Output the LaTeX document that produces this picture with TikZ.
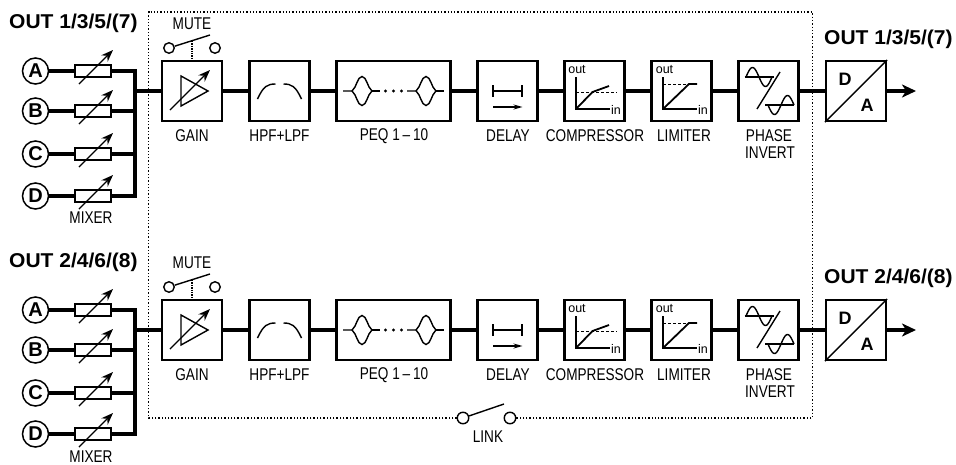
\documentclass[tikz,border=0pt]{standalone}
\usepackage{fontspec}
\setmainfont{Liberation Sans}
\newfontfamily\lblfont[FakeStretch=0.8]{Liberation Sans}
\newfontfamily\outfont[FakeStretch=1.05]{Liberation Sans}
\usetikzlibrary{arrows.meta}
\tikzset{
  x=1pt,y=-1pt,
  blockbox/.style={draw,line width=2.2pt,minimum width=60pt,minimum height=60pt,inner sep=0pt,fill=white},
  wire/.style={line width=3.6pt},
  icon/.style={line width=1.4pt},
  lbl/.style={inner sep=0pt,font=\lblfont\fontsize{17}{19}\selectfont},
  outlbl/.style={inner sep=0pt,font=\outfont\bfseries\fontsize{20}{22}\selectfont},
  small/.style={inner sep=0pt,font=\fontsize{12.5}{14}\selectfont},
  inletter/.style={draw,circle,line width=1.5pt,minimum size=26pt,inner sep=0pt,font=\bfseries\fontsize{20}{22}\selectfont},
  dalet/.style={inner sep=0pt,font=\bfseries\fontsize{18}{20}\selectfont},
  res/.style={draw,line width=1.5pt,minimum width=36pt,minimum height=12pt,inner sep=0pt,fill=white},
  term/.style={draw,circle,line width=1.4pt,minimum size=10.5pt,inner sep=0pt,fill=white},
  frame/.style={dotted,line width=1.3pt},
  tune/.style={line width=1.4pt,-{Stealth[length=12pt,width=9pt]}},
}
% one input of the mixer: prefix, letter, y
\newcommand{\mixinput}[3]{%
  \node[inletter] (#1#2) at (35.5,#3) {#2};
  \node[res] (#1r#2) at (93,#3) {};
  \coordinate (#1bus#2) at (135,#3);
  \draw[wire] (#1#2) -- (#1r#2) -- (#1bus#2);
  \draw[tune] ([shift={(-14,13)}]#1r#2.center) -- ([shift={(20,-21)}]#1r#2.center);
}
\newcommand{\signalrow}[8]{%
  % #1 prefix, #2 centre y, #3-#6 input ys, #7 mixer label y, #8 title
  \node[outlbl,anchor=west] (#1titleL) at (9,#2-68) {OUT #8};
  \node[outlbl,anchor=west] (#1titleR) at (824,#2-52) {OUT #8};
  \mixinput{#1}{A}{#3}\mixinput{#1}{B}{#4}\mixinput{#1}{C}{#5}\mixinput{#1}{D}{#6}
  \node[lbl] (#1mixer) at (91,#7) {MIXER};
  \draw[wire,line cap=rect] (#1busA) -- (#1busD);
  \coordinate (#1join) at (135,#2);
  \node[blockbox] (#1gain) at (192,#2) {};
  \node[blockbox] (#1hpf) at (279.5,#2) {};
  \node[blockbox,minimum width=114pt] (#1peq) at (393.5,#2) {};
  \node[blockbox] (#1delay) at (507.5,#2) {};
  \node[blockbox] (#1comp) at (594.5,#2) {};
  \node[blockbox] (#1lim) at (681.5,#2) {};
  \node[blockbox] (#1phase) at (768.5,#2) {};
  \node[blockbox] (#1da) at (856,#2) {};
  \coordinate (#1out) at (916,#2);
  \draw[wire] (#1join) -- (#1gain);
  \draw[wire] (#1gain) -- (#1hpf);
  \draw[wire] (#1hpf) -- (#1peq);
  \draw[wire] (#1peq) -- (#1delay);
  \draw[wire] (#1delay) -- (#1comp);
  \draw[wire] (#1comp) -- (#1lim);
  \draw[wire] (#1lim) -- (#1phase);
  \draw[wire] (#1phase) -- (#1da);
  \draw[wire,-{Stealth[length=14pt,width=13pt,inset=4pt]}] (#1da) -- (#1out);
  % labels
  \node[lbl] (#1lgain) at (192,#2+45) {GAIN};
  \node[lbl] (#1lhpf) at (279.5,#2+45) {HPF+LPF};
  \node[lbl] (#1lpeq) at (394,#2+45) {PEQ 1\,–\,10};
  \node[lbl] (#1ldelay) at (508,#2+45) {DELAY};
  \node[lbl] (#1lcomp) at (595,#2+45) {COMPRESSOR};
  \node[lbl] (#1llim) at (684,#2+45) {LIMITER};
  \node[lbl] (#1lph) at (769,#2+45) {PHASE};
  \node[lbl] (#1linv) at (770,#2+62) {INVERT};
  % mute switch
  \node[lbl] (#1mute) at (192,#2-67) {MUTE};
  \node[term] (#1ma) at (169,#2-43) {};
  \node[term] (#1mb) at (215,#2-43) {};
  \coordinate (#1lever) at (210,#2-56);
  \coordinate (#1tap) at (192,#2-50);
  \draw[icon] (#1ma) -- (#1lever);
  \draw[icon,densely dotted] (#1tap) -- (#1gain.north);
  % gain icon
  \begin{scope}[shift={(192,#2)}]
    \draw[icon] (-11,-15) -- (-11,15) -- (16,0) -- cycle;
    \draw[tune] (-22,19) -- (18,-21);
  \end{scope}
  % filter icon
  \begin{scope}[shift={(279.5,#2)}]
    \draw[icon] (-22,8) .. controls (-16,-5) and (-12,-7) .. (-4,-7);
    \draw[icon] (22,8) .. controls (16,-5) and (12,-7) .. (4,-7);
  \end{scope}
  % parametric eq icon
  \begin{scope}[shift={(393.5,#2)}]
    \foreach \c in {-31.5,32.5}{
      \draw[icon] (\c-19,0) -- (\c-10,0) .. controls (\c-5,-4) and (\c-5,-14) .. (\c,-14.5)
        .. controls (\c+5,-14) and (\c+5,-4) .. (\c+10,0)
        .. controls (\c+5,4) and (\c+5,14) .. (\c,14.5)
        .. controls (\c-5,14) and (\c-5,4) .. (\c-10,0);
      \draw[icon] (\c+10,0) -- (\c+18,0);
    }
    \foreach \d in {-8,0,8}{\fill (\d,0) circle[radius=1.7];}
  \end{scope}
  % delay icon
  \begin{scope}[shift={(507.5,#2)}]
    \draw[icon] (-14.5,-6) -- (-14.5,6) (14.5,-6) -- (14.5,6) (-14.5,0) -- (14.5,0);
    \draw[icon,-{Stealth[length=9pt,width=5pt]}] (-14.5,16) -- (15,16);
  \end{scope}
  % compressor icon
  \begin{scope}[shift={(594.5,#2)}]
    \draw[icon] (-18.5,-14) -- (-18.5,18) -- (15,18);
    \draw[densely dashed,line width=.9pt] (-18.5,1) -- (22,1);
    \draw[line width=1.8pt] (-18.5,18) -- (-2,1) -- (14.5,-5);
    \node[small] (#1cout) at (-17.5,-21) {out};
    \node[small] (#1cin) at (21.5,19) {in};
  \end{scope}
  % limiter icon
  \begin{scope}[shift={(681.5,#2)}]
    \draw[icon] (-18.5,-14) -- (-18.5,18) -- (15.5,18);
    \draw[densely dashed,line width=.9pt] (-18.5,-7) -- (7.5,-7);
    \draw[line width=1.8pt] (-18.5,18) -- (7.5,-7) -- (15.5,-7);
    \node[small] (#1lout) at (-17,-21) {out};
    \node[small] (#1lin) at (21.5,19) {in};
  \end{scope}
  % phase icon
  \begin{scope}[shift={(768.5,#2)}]
    \draw[icon] (-11.5,18) -- (11.5,-19);
    \draw[icon] (-24,-14) -- (5,-14);
    \draw[icon] (-3.5,14) -- (25.5,14);
    \draw[icon,smooth,domain=-13:13,samples=30,variable=\t] plot ({-9.5+\t},{-14+9.5*sin(180*\t/13)});
    \draw[icon,smooth,domain=-13:13,samples=30,variable=\t] plot ({12.5+\t},{14-9.5*sin(180*\t/13)});
  \end{scope}
  % D/A icon
  \draw[icon] (#1da.south west) -- (#1da.north east);
  \node[dalet] (#1d) at (845,#2-12) {D};
  \node[dalet] (#1a) at (867,#2+14) {A};
}
\begin{document}
\begin{tikzpicture}
\useasboundingbox (0,0) rectangle (956,464);
\node[term,minimum size=11.5pt] (linka) at (463,418) {};
\node[term,minimum size=11.5pt] (linkb) at (510,418) {};
\coordinate (linklever) at (504,404);
\coordinate (frameNW) at (148.5,12);
\coordinate (frameNE) at (812.5,12);
\coordinate (frameSE) at (812.5,418);
\coordinate (frameSW) at (148.5,418);
\draw[frame] (linka) -- (frameSW) -- (frameNW) -- (frameNE) -- (frameSE) -- (linkb);
\draw[icon] (linka) -- (linklever);
\node[lbl] (linklbl) at (488,437) {LINK};
\signalrow{t}{91}{71}{111}{154}{196}{218}{1/3/5/(7)}
\signalrow{b}{330}{310}{350}{393}{434}{457}{2/4/6/(8)}
\end{tikzpicture}
\end{document}
